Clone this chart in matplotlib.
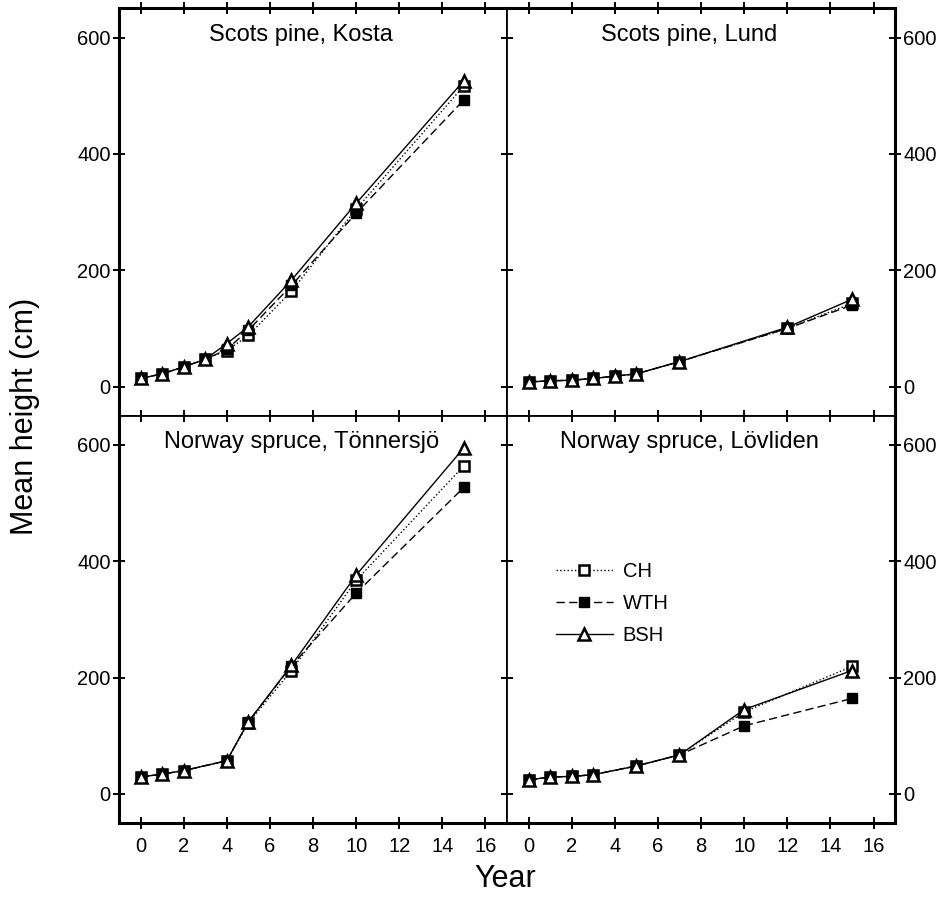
import numpy as np
from matplotlib import pyplot as plt

# Scots pine, Kosta
kosta_years = [0, 1, 2, 3, 4, 5, 7, 10, 15]
kosta_ch = [14, 22, 34, 47, 62, 88, 164, 305, 517]
kosta_wth = [14, 22, 34, 47, 64, 97, 174, 298, 493]
kosta_bsh = [14, 22, 34, 47, 74, 103, 183, 315, 526]

# Scots pine, Lund
lund_years = [0, 1, 2, 3, 4, 5, 7, 12, 15]
lund_ch = [8, 10, 11, 14, 18, 22, 43, 100, 143]
lund_wth = [8, 10, 11, 14, 18, 22, 43, 100, 140]
lund_bsh = [8, 10, 11, 14, 18, 22, 43, 102, 150]

# Norway spruce, Tonnersjo
tonn_years = [0, 1, 2, 4, 5, 7, 10, 15]
tonn_ch = [29, 34, 40, 57, 122, 212, 367, 564]
tonn_wth = [29, 34, 40, 57, 124, 220, 345, 527]
tonn_bsh = [29, 34, 40, 57, 124, 221, 376, 595]

# Norway spruce, Lovliden
lov_years = [0, 1, 2, 3, 5, 7, 10, 15]
lov_ch = [24, 29, 30, 33, 48, 67, 141, 219]
lov_wth = [24, 29, 30, 33, 48, 67, 117, 164]
lov_bsh = [24, 29, 30, 33, 48, 67, 145, 212]

titles = ['Scots pine, Kosta', 'Scots pine, Lund',
          'Norway spruce, T\u00f6nnersj\u00f6', 'Norway spruce, L\u00f6vliden']
x_ticks = [0, 2, 4, 6, 8, 10, 12, 14, 16]
y_ticks = [0, 200, 400, 600]


def plot_panel(ax, years, ch, wth, bsh, title, side, bottom):
    plt.sca(ax)
    plt.plot(years, ch, linestyle=':', color='black', lw=1.0, marker='s',
             markersize=7.5, markerfacecolor='white', markeredgecolor='black',
             markeredgewidth=1.8, label='CH')
    plt.plot(years, wth, linestyle='--', color='black', lw=1.0, marker='s',
             markersize=7.5, markerfacecolor='black', markeredgecolor='black',
             label='WTH', dashes=(6, 3))
    plt.plot(years, bsh, linestyle='-', color='black', lw=1.0, marker='^',
             markersize=8.5, markerfacecolor='white', markeredgecolor='black',
             markeredgewidth=1.8, label='BSH')
    plt.xlim(-1, 17)
    plt.ylim(-50, 650)
    plt.xticks(x_ticks)
    plt.yticks(y_ticks)
    ax.text(0.47, 0.935, title, transform=ax.transAxes, ha='center',
            va='center', fontsize=17)
    ax.tick_params(direction='inout', length=8, width=1.4, top=True,
                   right=True, labelsize=14.5)
    ax.tick_params(axis='y', labelleft=(side == 'left'),
                   labelright=(side == 'right'), pad=2)
    ax.tick_params(axis='x', labelbottom=bottom, pad=6)
    for s in ax.spines.values():
        s.set_linewidth(1.3)
    # outer frame is drawn heavier than the inner dividers
    ax.spines[side].set_linewidth(2.2)
    ax.spines['bottom' if bottom else 'top'].set_linewidth(2.2)


if __name__ == '__main__':
    plt.rcParams['font.family'] = ['Liberation Sans', 'DejaVu Sans']
    fig = plt.figure(figsize=(9.4, 9.01), dpi=100)

    left, width = 0.1266, 0.4128
    bot, height = 0.0866, 0.4520
    ax_tl = fig.add_axes([left, bot + height, width, height])
    ax_tr = fig.add_axes([left + width, bot + height, width, height])
    ax_bl = fig.add_axes([left, bot, width, height])
    ax_br = fig.add_axes([left + width, bot, width, height])

    plot_panel(ax_tl, kosta_years, kosta_ch, kosta_wth, kosta_bsh,
               titles[0], 'left', False)
    plot_panel(ax_tr, lund_years, lund_ch, lund_wth, lund_bsh,
               titles[1], 'right', False)
    plot_panel(ax_bl, tonn_years, tonn_ch, tonn_wth, tonn_bsh,
               titles[2], 'left', True)
    plot_panel(ax_br, lov_years, lov_ch, lov_wth, lov_bsh,
               titles[3], 'right', True)

    ax_br.legend(loc='upper left', bbox_to_anchor=(0.08, 0.685), frameon=False,
                 fontsize=14.5, handlelength=2.8, handletextpad=0.5,
                 labelspacing=0.65)

    fig.text(0.027, 0.538, 'Mean height (cm)', rotation=90, ha='center',
             va='center', fontsize=22)
    fig.text(0.537, 0.024, 'Year', ha='center', va='center', fontsize=22)

    plt.savefig('out.png', dpi=100)
